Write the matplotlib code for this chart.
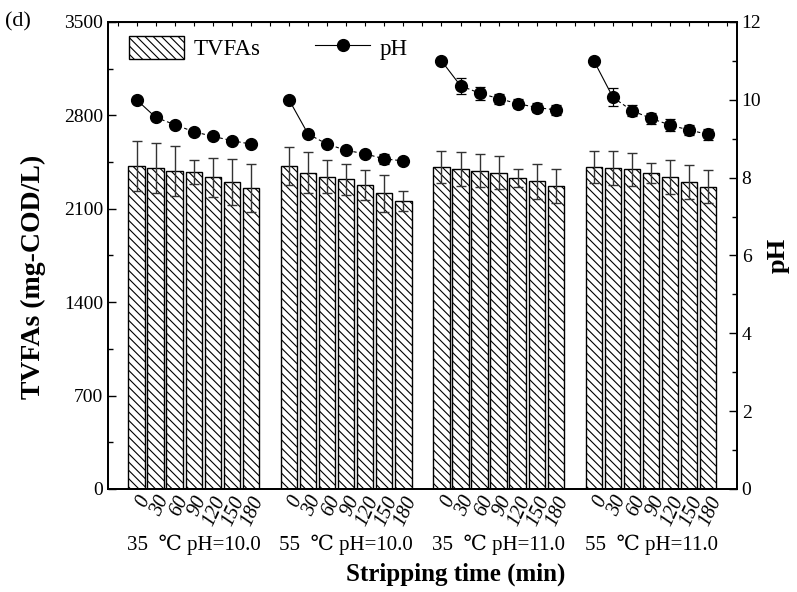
import numpy as np
import matplotlib.pyplot as plt
from matplotlib.patches import Patch
from matplotlib.lines import Line2D

plt.rcParams['font.family'] = ['Liberation Serif', 'DejaVu Serif']
plt.rcParams['hatch.linewidth'] = 0.8

# Datos
tiempos = ["0", "30", "60", "90", "120", "150", "180"]
grupos = ["35  \u2103 pH=10.0", "55  \u2103 pH=10.0",
          "35  \u2103 pH=11.0", "55  \u2103 pH=11.0"]

tvfa = [
    [2420, 2405, 2385, 2375, 2335, 2300, 2255],
    [2420, 2370, 2340, 2320, 2275, 2215, 2155],
    [2415, 2395, 2385, 2370, 2330, 2305, 2270],
    [2415, 2405, 2395, 2365, 2335, 2300, 2265],
]
tvfa_err = [
    [190, 187, 187, 92, 148, 175, 177],
    [145, 155, 125, 118, 112, 140, 75],
    [120, 127, 125, 125, 70, 130, 127],
    [120, 125, 125, 75, 127, 127, 123],
]
ph = [
    [10.0, 9.55, 9.36, 9.18, 9.06, 8.95, 8.86],
    [10.0, 9.12, 8.86, 8.70, 8.61, 8.48, 8.43],
    [11.0, 10.36, 10.17, 10.03, 9.90, 9.80, 9.74],
    [11.0, 10.06, 9.72, 9.52, 9.35, 9.22, 9.11],
]
ph_err = [
    [0.03, 0.05, 0.05, 0.05, 0.05, 0.05, 0.05],
    [0.03, 0.05, 0.05, 0.05, 0.05, 0.12, 0.08],
    [0.03, 0.20, 0.17, 0.13, 0.12, 0.12, 0.13],
    [0.03, 0.23, 0.15, 0.15, 0.15, 0.13, 0.14],
]

fig = plt.figure(figsize=(7.97, 5.92), dpi=100)
ax = fig.add_axes([0.1355, 0.174, 0.789, 0.789])
ax2 = ax.twinx()

paso = 8
for g in range(len(grupos)):
    x = g * paso + np.arange(len(tiempos))
    ax.bar(x, tvfa[g], width=0.86, color="white", edgecolor="black",
           linewidth=1.0, hatch="\\\\\\\\", zorder=2)
    ax.errorbar(x, tvfa[g], yerr=tvfa_err[g], fmt="none", ecolor="#333333",
                elinewidth=1.0, capsize=3.5, capthick=1.0, zorder=3)
    # primer tramo continuo, el resto discontinuo
    ax2.plot(x[:2], ph[g][:2], color="black", lw=0.8, zorder=4)
    ax2.plot(x[1:], ph[g][1:], color="black", lw=0.8, ls=(0, (3, 2.5)),
             zorder=4)
    ax2.errorbar(x, ph[g], yerr=ph_err[g], fmt="o", color="black",
                 markersize=8.5, elinewidth=0.9, capsize=3.5, capthick=0.9,
                 zorder=5)

ax.set_xlim(-1.5, 31.5)
ax.set_ylim(0, 3500)
ax2.set_ylim(0, 12)

pos = [g * paso + i for g in range(len(grupos)) for i in range(len(tiempos))]
ax.set_xticks(pos)
ax.set_xticklabels(tiempos * len(grupos), rotation=65, ha="right",
                   va="top", rotation_mode="anchor", fontsize=14.5,
                   style="italic")
ax.tick_params(axis="x", length=0, pad=3)
ax.set_yticks(np.arange(0, 3501, 700))
ax.set_yticks(np.arange(0, 3501, 350), minor=True)
ax.tick_params(axis="y", which="major", direction="in", length=6,
               width=1.0, labelsize=14, right=False)
ax.tick_params(axis="y", which="minor", direction="in", length=3.5,
               width=1.0, right=False)
ax2.set_yticks(np.arange(0, 13, 2))
ax2.set_yticks(np.arange(0, 13, 1), minor=True)
ax2.tick_params(axis="y", which="major", direction="in", length=6,
                width=1.0, labelsize=14)
ax2.tick_params(axis="y", which="minor", direction="in", length=3.5,
                width=1.0)

# marcas arriba
ax3 = ax.secondary_xaxis("top")
ax3.set_xticks(np.arange(-1, 32, 1))
ax3.tick_params(direction="in", length=3, width=0.8, labeltop=False)
ax3.set_xticklabels([])

for eje in (ax, ax2):
    for s in eje.spines.values():
        s.set_linewidth(1.3)

ax.set_ylabel("TVFAs (mg-COD/L)", fontsize=20, fontweight="bold")
ax.yaxis.set_label_coords(-0.098, 0.455)
ax2.set_ylabel("pH", fontsize=19, fontweight="bold")
ax2.yaxis.set_label_coords(1.048, 0.5)
ax.set_xlabel("Stripping time (min)", fontsize=18, fontweight="bold")
ax.xaxis.set_label_coords(0.553, -0.158)

for g, nombre in enumerate(grupos):
    ax.text(g * paso + 3, -0.12, nombre, transform=ax.get_xaxis_transform(),
            ha="center", va="center", fontsize=15)

fig.text(0.006, 0.963, "(d)", fontsize=16, va="center")

handles = [Patch(facecolor="white", edgecolor="black", hatch="\\\\\\\\",
                 linewidth=1.0),
           Line2D([], [], color="black", lw=0.8, marker="o", markersize=8.5)]
ax.legend(handles, ["TVFAs", "pH"], loc="upper left", ncol=2,
          frameon=False, fontsize=16.5, handlelength=2.4, handleheight=1.2,
          handletextpad=0.4, columnspacing=2.4, borderaxespad=0.2,
          bbox_to_anchor=(0.012, 1.0))

fig.savefig("out.png", dpi=100)
